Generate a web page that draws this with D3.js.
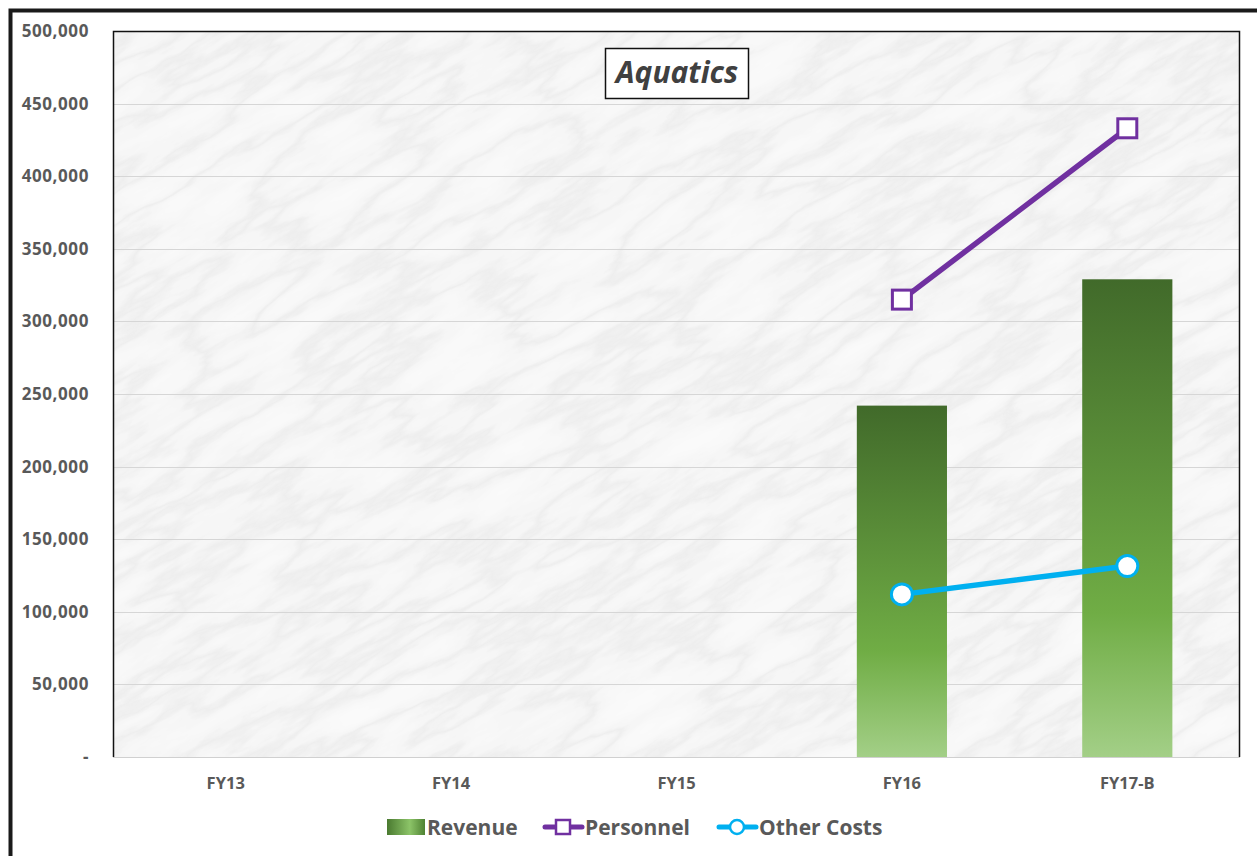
<!DOCTYPE html>
<html>
<head>
<meta charset="utf-8">
<script src="https://cdn.jsdelivr.net/npm/d3@7"></script>
<style>
html,body{margin:0;padding:0;background:#fff;}
svg{display:block;}
</style>
</head>
<body>
<svg id="chart" width="1257" height="856"></svg>
<script>
// ---- data ----
const categories = ["FY13", "FY14", "FY15", "FY16", "FY17-B"];
const revenue = [null, null, null, 242000, 329000];
const personnel = [null, null, null, 315000, 433000];
const otherCosts = [null, null, null, 112000, 131500];
const yTickValues = [0, 50000, 100000, 150000, 200000, 250000, 300000, 350000, 400000, 450000, 500000];
const chartTitle = "Aquatics";
const legendLabels = ["Revenue", "Personnel", "Other Costs"];

// ---- layout ----
const W = 1257, H = 856;
const plot = {left: 113, right: 1240, top: 31, bottom: 757};
const fontFam = "'Open Sans', 'Noto Sans', sans-serif";
const textGray = "#595959";
const purple = "#7030a0", blue = "#00b0f0";

const svg = d3.select("#chart");
const defs = svg.append("defs");

// bar gradient
const grad = defs.append("linearGradient").attr("id", "barGrad")
  .attr("x1", 0).attr("y1", 0).attr("x2", 0).attr("y2", 1);
grad.append("stop").attr("offset", "0%").attr("stop-color", "#416a2a");
grad.append("stop").attr("offset", "70%").attr("stop-color", "#70ad45");
grad.append("stop").attr("offset", "100%").attr("stop-color", "#a3cf87");

const lgGrad = defs.append("linearGradient").attr("id", "legGrad")
  .attr("x1", 0).attr("y1", 0).attr("x2", 1).attr("y2", 0);
lgGrad.append("stop").attr("offset", "0%").attr("stop-color", "#4a7a30");
lgGrad.append("stop").attr("offset", "60%").attr("stop-color", "#8cc468");
lgGrad.append("stop").attr("offset", "100%").attr("stop-color", "#4f8233");

// marble filter
const filt = defs.append("filter").attr("id", "marble")
  .attr("x", 0).attr("y", 0).attr("width", 1).attr("height", 1)
  .attr("filterUnits", "objectBoundingBox");
filt.append("feTurbulence").attr("type", "fractalNoise")
  .attr("baseFrequency", "0.007 0.03").attr("numOctaves", 6).attr("seed", 4).attr("result", "n");
filt.append("feColorMatrix").attr("type", "matrix")
  .attr("values", "0.7 0.3 0 0 0  0.7 0.3 0 0 0  0.7 0.3 0 0 0  0 0 0 0 1").attr("result", "g");
const ct = filt.append("feComponentTransfer");
const tv = "0.97 0.965 0.96 0.955 0.95 0.94 0.92 0.86 0.92 0.94 0.95 0.955 0.96 0.965 0.97";
ct.append("feFuncR").attr("type", "table").attr("tableValues", tv);
ct.append("feFuncG").attr("type", "table").attr("tableValues", tv);
ct.append("feFuncB").attr("type", "table").attr("tableValues", tv);

defs.append("clipPath").attr("id", "plotClip").append("rect")
  .attr("x", plot.left).attr("y", plot.top)
  .attr("width", plot.right - plot.left).attr("height", plot.bottom - plot.top);

// outer frame
svg.append("rect").attr("x", 10.5).attr("y", 10.5).attr("width", W + 20).attr("height", H + 20)
  .attr("fill", "#fff").attr("stroke", "#1a1a1a").attr("stroke-width", 4);

// marble background
const bg = svg.append("g").attr("clip-path", "url(#plotClip)");
bg.append("rect").attr("x", plot.left).attr("y", plot.top)
  .attr("width", plot.right - plot.left).attr("height", plot.bottom - plot.top).attr("fill", "#f3f3f3");
bg.append("g")
  .attr("transform", `rotate(-30 ${(plot.left + plot.right) / 2} ${(plot.top + plot.bottom) / 2})`)
  .append("rect")
  .attr("x", plot.left - 300).attr("y", plot.top - 500)
  .attr("width", plot.right - plot.left + 600).attr("height", plot.bottom - plot.top + 1000)
  .attr("filter", "url(#marble)");

// scales
const x = d3.scaleBand().domain(categories).range([plot.left, plot.right])
  .paddingInner(0.6).paddingOuter(0.3);
const y = d3.scaleLinear().domain([0, 500000]).range([plot.bottom, plot.top]);
const cx = c => x(c) + x.bandwidth() / 2;

// gridlines
svg.append("g").selectAll("line").data(yTickValues.filter(v => v > 0 && v < 500000)).join("line")
  .attr("x1", plot.left).attr("x2", plot.right)
  .attr("y1", d => Math.round(y(d)) + 0.5).attr("y2", d => Math.round(y(d)) + 0.5)
  .attr("stroke", "#d6d6d6").attr("stroke-width", 1);

// plot frame
svg.append("path")
  .attr("d", `M${plot.left + 0.5},${plot.bottom}V${plot.top + 0.5}H${plot.right - 0.5}V${plot.bottom}`)
  .attr("fill", "none").attr("stroke", "#111").attr("stroke-width", 1.5);

// bars
const rev = categories.map((c, i) => ({c, v: revenue[i]})).filter(d => d.v != null);
svg.append("g").selectAll("rect").data(rev).join("rect")
  .attr("x", d => x(d.c)).attr("width", x.bandwidth())
  .attr("y", d => y(d.v)).attr("height", d => y(0) - y(d.v))
  .attr("fill", "url(#barGrad)");

// bottom axis line
svg.append("line").attr("x1", plot.left).attr("x2", plot.right)
  .attr("y1", plot.bottom + 0.5).attr("y2", plot.bottom + 0.5)
  .attr("stroke", "#d0d0d0").attr("stroke-width", 1);

// axes
const yAxis = svg.append("g").attr("transform", `translate(${plot.left},0)`)
  .call(d3.axisLeft(y).tickValues(yTickValues).tickSize(0).tickPadding(24)
    .tickFormat(d => d === 0 ? "-" : d3.format(",")(d)));
yAxis.select(".domain").remove();
yAxis.selectAll("text").attr("font-family", fontFam).attr("font-weight", "bold")
  .attr("font-size", 17).attr("letter-spacing", 0.6).attr("fill", textGray);

const xAxis = svg.append("g").attr("transform", `translate(0,${plot.bottom})`)
  .call(d3.axisBottom(x).tickSize(0).tickPadding(20));
xAxis.select(".domain").remove();
xAxis.selectAll("text").attr("font-family", fontFam).attr("font-weight", "bold")
  .attr("font-size", 16.5).attr("fill", textGray);

// lines
function drawSeries(vals, color, marker) {
  const pts = categories.map((c, i) => ({c, v: vals[i]})).filter(d => d.v != null);
  svg.append("path").datum(pts)
    .attr("d", d3.line().x(d => cx(d.c)).y(d => y(d.v)))
    .attr("fill", "none").attr("stroke", color).attr("stroke-width", 5.5).attr("stroke-linecap", "round");
  const g = svg.append("g");
  if (marker === "square") {
    g.selectAll("rect").data(pts).join("rect")
      .attr("x", d => cx(d.c) - 9.5).attr("y", d => y(d.v) - 9.5)
      .attr("width", 19).attr("height", 19)
      .attr("fill", "#fff").attr("stroke", color).attr("stroke-width", 3);
  } else {
    g.selectAll("circle").data(pts).join("circle")
      .attr("cx", d => cx(d.c)).attr("cy", d => y(d.v)).attr("r", 10.5)
      .attr("fill", "#fff").attr("stroke", color).attr("stroke-width", 3);
  }
}
drawSeries(personnel, purple, "square");
drawSeries(otherCosts, blue, "circle");

// title
const tg = svg.append("g");
tg.append("rect").attr("x", 605.5).attr("y", 48.5).attr("width", 143).attr("height", 50)
  .attr("fill", "#fff").attr("stroke", "#111").attr("stroke-width", 1.5);
tg.append("text").attr("x", 677).attr("y", 83).attr("text-anchor", "middle")
  .attr("font-family", fontFam).attr("font-weight", "bold").attr("font-style", "italic")
  .attr("font-size", 30).attr("fill", "#404040").text(chartTitle);

// legend
const lg = svg.append("g").attr("font-family", fontFam).attr("font-weight", "bold")
  .attr("font-size", 21).attr("fill", textGray);
const ly = 827;
lg.append("rect").attr("x", 387).attr("y", ly - 8).attr("width", 38).attr("height", 16).attr("fill", "url(#legGrad)");
lg.append("text").attr("x", 427).attr("y", ly + 7.5).text(legendLabels[0]);

lg.append("line").attr("x1", 545).attr("x2", 582).attr("y1", ly).attr("y2", ly)
  .attr("stroke", purple).attr("stroke-width", 5).attr("stroke-linecap", "round");
lg.append("rect").attr("x", 556).attr("y", ly - 7).attr("width", 14).attr("height", 14)
  .attr("fill", "#fff").attr("stroke", purple).attr("stroke-width", 2.5);
lg.append("text").attr("x", 585).attr("y", ly + 7.5).text(legendLabels[1]);

lg.append("line").attr("x1", 719).attr("x2", 756).attr("y1", ly).attr("y2", ly)
  .attr("stroke", blue).attr("stroke-width", 5).attr("stroke-linecap", "round");
lg.append("circle").attr("cx", 737).attr("cy", ly).attr("r", 7)
  .attr("fill", "#fff").attr("stroke", blue).attr("stroke-width", 2.5);
lg.append("text").attr("x", 759).attr("y", ly + 7.5).text(legendLabels[2]);
</script>
</body>
</html>
